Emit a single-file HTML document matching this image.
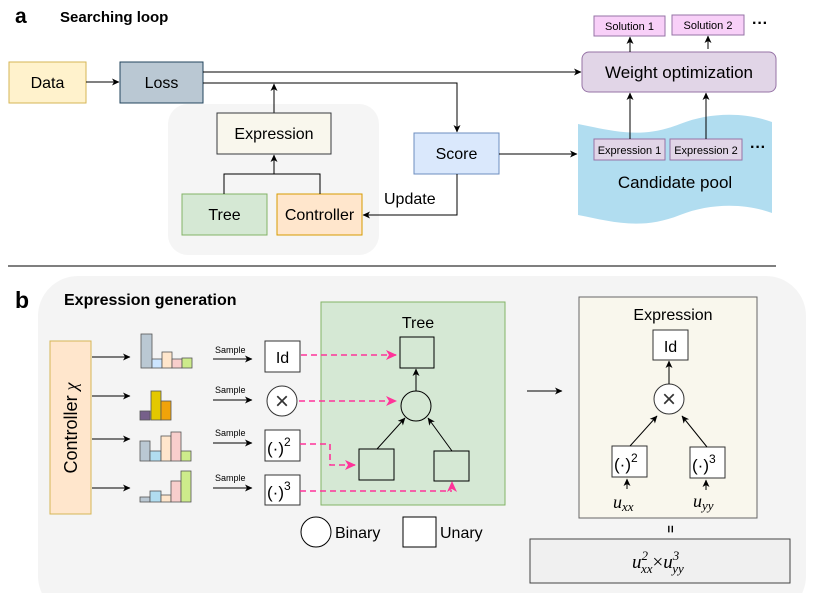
<!DOCTYPE html>
<html><head><meta charset="utf-8"><style>
html,body{margin:0;padding:0;background:#fff;}
svg{display:block;font-family:"Liberation Sans",Arial,sans-serif;}
</style></head><body>
<svg width="830" height="593" viewBox="0 0 830 593" xmlns="http://www.w3.org/2000/svg">
<defs>
<marker id="ar" markerWidth="8" markerHeight="8" refX="7" refY="4" orient="auto" markerUnits="userSpaceOnUse"><path d="M0,0.5 L7.5,4 L0,7.5 L2,4 Z" fill="#000"/></marker>
<marker id="pk" markerWidth="12" markerHeight="12" refX="10" refY="5" orient="auto" markerUnits="userSpaceOnUse"><path d="M0,0 L11,5 L0,10 L3,5 Z" fill="#ff3399"/></marker>
</defs>
<rect width="830" height="593" fill="#fff"/>
<!-- Part a -->
<text x="15" y="23" font-size="21" font-weight="bold">a</text>
<text x="60" y="22" font-size="15" font-weight="bold">Searching loop</text>
<rect x="168" y="104" width="211" height="151" rx="20" fill="#f5f5f5"/>
<rect x="9" y="62" width="77" height="41" fill="#fff2cc" stroke="#d6b656"/>
<text x="47.5" y="88" font-size="16" text-anchor="middle">Data</text>
<rect x="120" y="62" width="83" height="41" fill="#bac8d3" stroke="#23445d"/>
<text x="161.5" y="88" font-size="16" text-anchor="middle">Loss</text>
<line x1="86" y1="82" x2="119" y2="82" stroke="#000" marker-end="url(#ar)"/>
<line x1="203" y1="72" x2="581" y2="72" stroke="#000" marker-end="url(#ar)"/>
<polyline points="203,83 457,83 457,132" fill="none" stroke="#000" marker-end="url(#ar)"/>
<line x1="274" y1="113" x2="274" y2="84" stroke="#000" marker-end="url(#ar)"/>
<rect x="217" y="113" width="114" height="41" fill="#f9f7ed" stroke="#36393d"/>
<text x="274" y="139" font-size="16" text-anchor="middle">Expression</text>
<rect x="182" y="194" width="85" height="41" fill="#d5e8d4" stroke="#82b366"/>
<text x="224.5" y="220" font-size="16" text-anchor="middle">Tree</text>
<rect x="277" y="194" width="85" height="41" fill="#ffe6cc" stroke="#d79b00"/>
<text x="319.5" y="220" font-size="16" text-anchor="middle">Controller</text>
<polyline points="224,194 224,174 320,174 320,194" fill="none" stroke="#000"/>
<line x1="274" y1="174" x2="274" y2="155" stroke="#000" marker-end="url(#ar)"/>
<rect x="414" y="133" width="85" height="41" fill="#dae8fc" stroke="#6c8ebf"/>
<text x="456.5" y="159" font-size="16" text-anchor="middle">Score</text>
<polyline points="457,174 457,215 363,215" fill="none" stroke="#000" marker-end="url(#ar)"/>
<text x="384" y="204" font-size="16">Update</text>
<line x1="499" y1="154" x2="577" y2="154" stroke="#000" marker-end="url(#ar)"/>
<path d="M578,124 C610,130 640,140 680,124 C710,112 745,112 772,122 L772,213 C745,203 710,203 680,215 C640,231 610,221 578,215 Z" fill="#b1ddf0"/>
<rect x="582" y="52" width="194" height="40" rx="7" fill="#e1d5e7" stroke="#9673a6"/>
<text x="679" y="78" font-size="17" text-anchor="middle">Weight optimization</text>
<rect x="594" y="16" width="71" height="20" fill="#f8d0f8" stroke="#9673a6"/>
<text x="629.5" y="30" font-size="11" text-anchor="middle">Solution 1</text>
<rect x="672" y="15" width="72" height="20" fill="#f8d0f8" stroke="#9673a6"/>
<text x="708" y="29" font-size="11" text-anchor="middle">Solution 2</text>
<text x="752" y="28" font-size="16" font-weight="bold">···</text>
<line x1="630" y1="52" x2="630" y2="37" stroke="#000" marker-end="url(#ar)"/>
<line x1="708" y1="49" x2="708" y2="36" stroke="#000" marker-end="url(#ar)"/>
<rect x="594" y="139" width="71" height="21" fill="#e1d5e7" stroke="#9673a6"/>
<text x="629.5" y="154" font-size="11" text-anchor="middle">Expression 1</text>
<rect x="670" y="139" width="72" height="21" fill="#e1d5e7" stroke="#9673a6"/>
<text x="706" y="154" font-size="11" text-anchor="middle">Expression 2</text>
<text x="750" y="152" font-size="16" font-weight="bold">···</text>
<line x1="630" y1="139" x2="630" y2="93" stroke="#000" marker-end="url(#ar)"/>
<line x1="706" y1="139" x2="706" y2="93" stroke="#000" marker-end="url(#ar)"/>
<text x="675" y="188" font-size="17" text-anchor="middle">Candidate pool</text>
<line x1="8" y1="266" x2="776" y2="266" stroke="#555" stroke-width="1.5"/>
<!-- Part b -->
<rect x="38" y="276" width="768" height="340" rx="40" fill="#f4f4f4"/>
<text x="15" y="308" font-size="23" font-weight="bold">b</text>
<text x="64" y="305" font-size="16" font-weight="bold">Expression generation</text>
<rect x="50" y="341" width="41" height="173" fill="#ffe6cc" stroke="#d6b656"/>
<text transform="translate(77,428) rotate(-90)" font-size="18" text-anchor="middle">Controller <tspan font-family="Liberation Serif,serif" font-style="italic">χ</tspan></text>
<g stroke="#000">
<line x1="92" y1="357" x2="130" y2="357" marker-end="url(#ar)"/>
<line x1="92" y1="396" x2="130" y2="396" marker-end="url(#ar)"/>
<line x1="92" y1="439" x2="130" y2="439" marker-end="url(#ar)"/>
<line x1="92" y1="488" x2="130" y2="488" marker-end="url(#ar)"/>
</g>
<g stroke="#555" stroke-width="0.8">
<rect x="141" y="334" width="11" height="34" fill="#bac8d3"/><rect x="152" y="359" width="10" height="9" fill="#cce5ff"/><rect x="162" y="352" width="10" height="16" fill="#ffe6cc"/><rect x="172" y="359" width="10" height="9" fill="#f8cecc"/><rect x="182" y="358" width="10" height="10" fill="#cdeb8b"/>
<rect x="140" y="411" width="10" height="9" fill="#76608a"/><rect x="151" y="391" width="10" height="29" fill="#e3c800"/><rect x="161" y="401" width="10" height="19" fill="#f0a30a"/>
<rect x="140" y="441" width="10" height="20" fill="#bac8d3"/><rect x="150" y="451" width="11" height="10" fill="#b1ddf0"/><rect x="161" y="436" width="10" height="25" fill="#ffe6cc"/><rect x="171" y="432" width="10" height="29" fill="#f8cecc"/><rect x="181" y="451" width="10" height="10" fill="#cdeb8b"/>
<rect x="140" y="497" width="10" height="5" fill="#bac8d3"/><rect x="150" y="491" width="11" height="11" fill="#b1ddf0"/><rect x="161" y="495" width="10" height="7" fill="#ffe6cc"/><rect x="171" y="481" width="10" height="21" fill="#f8cecc"/><rect x="181" y="471" width="10" height="31" fill="#cdeb8b"/>
</g>
<g font-size="9">
<text x="215" y="353">Sample</text><text x="215" y="393">Sample</text><text x="215" y="436">Sample</text><text x="215" y="481">Sample</text>
</g>
<g stroke="#000">
<line x1="213" y1="359" x2="252" y2="359" marker-end="url(#ar)"/>
<line x1="213" y1="400" x2="252" y2="400" marker-end="url(#ar)"/>
<line x1="213" y1="443" x2="252" y2="443" marker-end="url(#ar)"/>
<line x1="213" y1="488" x2="252" y2="488" marker-end="url(#ar)"/>
</g>
<rect x="265" y="341" width="35" height="31" fill="#fff" stroke="#333"/>
<text x="282.5" y="363" font-size="16" text-anchor="middle">Id</text>
<circle cx="282" cy="401" r="15" fill="#fff" stroke="#333"/>
<text x="282" y="409" font-size="24" font-weight="300" text-anchor="middle" fill="#333">×</text>
<rect x="265" y="430" width="35" height="31" fill="#fff" stroke="#333"/>
<text x="267" y="454" font-size="17">(·)<tspan font-size="12" dy="-8">2</tspan></text>
<rect x="265" y="475" width="35" height="30" fill="#fff" stroke="#333"/>
<text x="267" y="498" font-size="17">(·)<tspan font-size="12" dy="-8">3</tspan></text>
<rect x="321" y="302" width="184" height="203" fill="#d5e8d4" stroke="#82b366"/>
<text x="418" y="328" font-size="16" text-anchor="middle">Tree</text>
<g fill="#d5e8d4" stroke="#000">
<rect x="400" y="337" width="34" height="31"/>
<circle cx="416" cy="406" r="15"/>
<rect x="359" y="449" width="35" height="31"/>
<rect x="434" y="451" width="35" height="30"/>
</g>
<g stroke="#000">
<line x1="416" y1="391" x2="416" y2="369" marker-end="url(#ar)"/>
<line x1="377" y1="449" x2="405" y2="418" marker-end="url(#ar)"/>
<line x1="452" y1="451" x2="428" y2="418" marker-end="url(#ar)"/>
</g>
<g stroke="#ff3399" stroke-width="1.6" stroke-dasharray="6,4" fill="none">
<line x1="301" y1="355" x2="396" y2="355" marker-end="url(#pk)"/>
<line x1="299" y1="401" x2="396" y2="401" marker-end="url(#pk)"/>
<polyline points="300,444 330,444 330,465 355,465" marker-end="url(#pk)"/>
<polyline points="300,491 452,491"/>
</g>
<path d="M452,481 L457,492 L452,489 L447,492 Z" fill="#ff3399"/>
<circle cx="316" cy="532" r="15" fill="#fff" stroke="#000"/>
<text x="335" y="538" font-size="16">Binary</text>
<rect x="403" y="517" width="33" height="30" fill="#fff" stroke="#000"/>
<text x="440" y="538" font-size="16">Unary</text>
<line x1="527" y1="391" x2="562" y2="391" stroke="#000" marker-end="url(#ar)"/>
<rect x="579" y="297" width="178" height="221" fill="#f9f7ed" stroke="#666"/>
<text x="673" y="320" font-size="16" text-anchor="middle">Expression</text>
<rect x="653" y="330" width="35" height="30" fill="#fff" stroke="#333"/>
<text x="670.5" y="352" font-size="16" text-anchor="middle">Id</text>
<circle cx="669" cy="399" r="15" fill="#fff" stroke="#333"/>
<text x="669" y="407" font-size="24" text-anchor="middle" fill="#333">×</text>
<rect x="612" y="446" width="35" height="31" fill="#fff" stroke="#333"/>
<text x="614" y="470" font-size="17">(·)<tspan font-size="12" dy="-8">2</tspan></text>
<rect x="690" y="447" width="35" height="31" fill="#fff" stroke="#333"/>
<text x="692" y="471" font-size="17">(·)<tspan font-size="12" dy="-8">3</tspan></text>
<g stroke="#000">
<line x1="669" y1="384" x2="669" y2="361" marker-end="url(#ar)"/>
<line x1="630" y1="446" x2="657" y2="416" marker-end="url(#ar)"/>
<line x1="707" y1="447" x2="682" y2="416" marker-end="url(#ar)"/>
<line x1="627" y1="489" x2="627" y2="479" marker-end="url(#ar)"/>
<line x1="706" y1="490" x2="706" y2="480" marker-end="url(#ar)"/>
</g>
<g font-family="Liberation Serif,serif" font-style="italic">
<text x="613" y="508" font-size="18">u<tspan font-size="13" dy="3">xx</tspan></text>
<text x="693" y="507" font-size="18">u<tspan font-size="13" dy="3">yy</tspan></text>
</g>
<text x="670" y="533" font-size="13" font-weight="bold" text-anchor="middle" transform="rotate(90 670 529)">=</text>
<rect x="530" y="539" width="260" height="44" fill="#f0f0f0" stroke="#444"/>
<text x="632" y="568" font-size="19" font-family="Liberation Serif,serif" font-style="italic">u<tspan font-size="13" dy="-8">2</tspan><tspan font-size="13" dx="-7" dy="13">xx</tspan><tspan font-style="normal" dy="-5">×</tspan>u<tspan font-size="13" dy="-8">3</tspan><tspan font-size="13" dx="-7" dy="13">yy</tspan></text>
</svg>
</body></html>
